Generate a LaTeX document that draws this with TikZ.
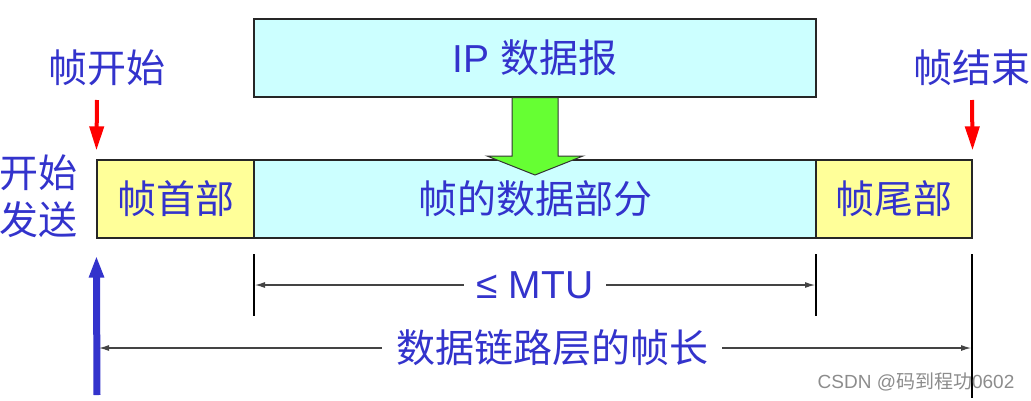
\documentclass[tikz,border=0pt]{standalone}
\usepackage{fontspec}
\setmainfont{Liberation Sans}
\newfontfamily\cjk{Noto Sans CJK SC}
\usetikzlibrary{arrows.meta}
\definecolor{txtblue}{HTML}{3333CC}
\definecolor{cyanf}{HTML}{CCFFFF}
\definecolor{yellowf}{HTML}{FFFF99}
\definecolor{greenf}{HTML}{66FF33}
\definecolor{redar}{HTML}{FF0000}
\definecolor{bluear}{HTML}{3333CC}
\definecolor{dimgray}{HTML}{444444}
\tikzset{
  box/.style={draw=black!85, line width=1.3pt, inner sep=0pt, minimum height=78pt, text=txtblue, font=\fontsize{39}{42}\selectfont\cjk},
  lbl/.style={text=txtblue, font=\fontsize{39}{47}\selectfont\cjk, inner sep=0pt, align=center},
  redarrow/.style={draw=redar, line width=4pt, -{Triangle[length=24pt,width=14pt]}},
  bluearrow/.style={draw=bluear, line width=7pt, -{Triangle[length=22pt,width=14pt]}},
  tickline/.style={draw=black, line width=2pt},
  dimline/.style={draw=dimgray, line width=1.1pt, {Latex[length=10pt,width=6pt]}-{Latex[length=10pt,width=6pt]}},
  dimlbl/.style={fill=white, text=txtblue, inner ysep=2pt},
}
\begin{document}
\begin{tikzpicture}[x=1pt,y=-1pt]
\useasboundingbox (0,0) rectangle (1031,400);
% boxes
\node[box, fill=cyanf, minimum width=562pt] (ip) at (535,58) {\fontspec{Liberation Sans}IP {\cjk 数据报}};
\node[box, fill=yellowf, minimum width=157pt] (hdr) at (175.5,199) {帧首部};
\node[box, fill=cyanf, minimum width=562pt] (data) at (535,199) {帧的数据部分};
\node[box, fill=yellowf, minimum width=156pt] (trl) at (894,199) {帧尾部};
% green arrow
\draw[draw=black!80, line width=1pt, fill=greenf]
  (ip.south -| 512,0) -- (ip.south -| 558,0) -- (558,156) -- (583,156) -- (535,175)
  -- (487,156) -- (512,156) -- cycle;
% labels
\node[lbl] (fstart) at (107,68) {帧开始};
\node[lbl] (fend) at (972,68) {帧结束};
\node[lbl] (send) at (38,196) {开始\\发送};
% red arrows
\coordinate (fsa) at (97,100);
\coordinate (fea) at (972,100);
\draw[redarrow, shorten >=9pt] (fsa) -- (hdr.north west);
\draw[redarrow, shorten >=9pt] (fea) -- (trl.north east);
% blue arrow
\coordinate (bst) at (97,395);
\draw[bluearrow, shorten >=17pt] (bst) -- (hdr.south west);
% tick lines
\coordinate (t1a) at (254,254); \coordinate (t1b) at (254,316);
\coordinate (t2a) at (816,254); \coordinate (t2b) at (816,316);
\coordinate (t3a) at (972,254); \coordinate (t3b) at (972,398);
\draw[tickline] (t1a) -- (t1b);
\draw[tickline] (t2a) -- (t2b);
\draw[tickline] (t3a) -- (t3b);
% dimension lines
\coordinate (m1) at (255,285); \coordinate (m2) at (815,285);
\draw[dimline] (m1) -- (m2);
\node[dimlbl, inner xsep=13pt, font=\fontsize{39}{42}\selectfont] (mtu) at (535,285) {≤ MTU};
\coordinate (l1) at (99,348); \coordinate (l2) at (971,348);
\draw[dimline] (l1) -- (l2);
\node[dimlbl, inner xsep=14pt, font=\fontsize{39}{42}\selectfont\cjk] (flen) at (552,348) {数据链路层的帧长};
% watermark
\node[text=black!45, font=\fontsize{19}{22}\selectfont, inner sep=0pt] (wm) at (916,382) {CSDN @{\cjk 码到程功}0602};
\end{tikzpicture}
\end{document}
